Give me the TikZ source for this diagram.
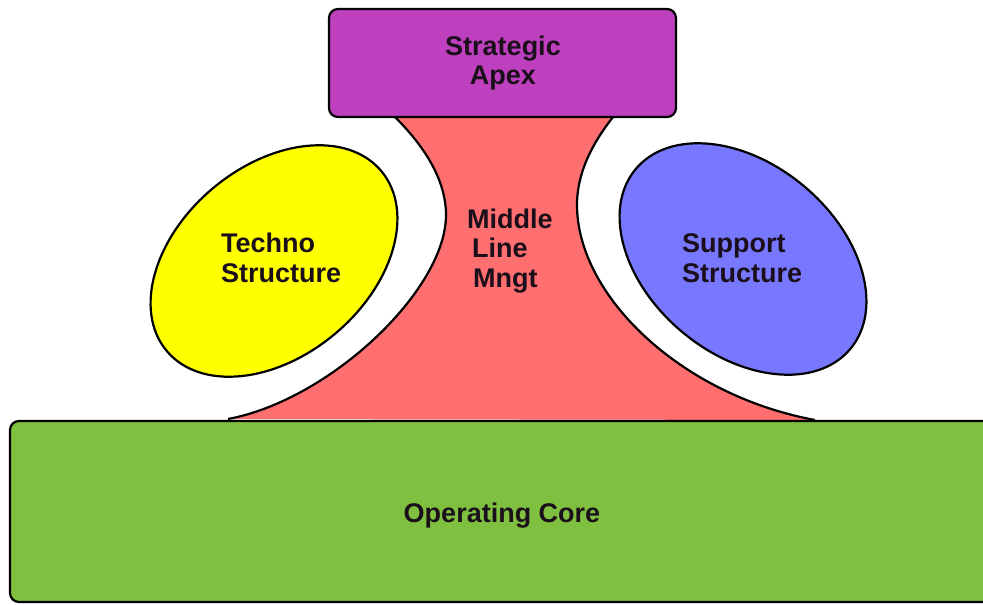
\documentclass[tikz,border=0pt]{standalone}
\usepackage{fontspec}
\setmainfont{Liberation Sans}
\usetikzlibrary{shapes.geometric}
\definecolor{apexc}{HTML}{BF40BF}
\definecolor{midc}{HTML}{FF6F6F}
\definecolor{techc}{HTML}{FFFF00}
\definecolor{suppc}{HTML}{7878FF}
\definecolor{corec}{HTML}{80C040}
\definecolor{txtc}{HTML}{1A0F1A}
\tikzset{
  outl/.style={draw=black, line width=2.2pt},
  boxst/.style={outl, rounded corners=9pt},
  ellst/.style={outl, ellipse, inner sep=0pt, minimum width=280pt, minimum height=190pt},
  lbl/.style={font=\fontsize{27}{29.5}\selectfont\bfseries, text=txtc, inner sep=0pt, align=left},
}
\begin{document}
\begin{tikzpicture}[x=1pt, y=-1pt]
\useasboundingbox (0,0) rectangle (983,605);
\clip (0,0) rectangle (983,605);
% middle line shape
\coordinate (lt) at (395,117);
\coordinate (lm) at (446,215);
\coordinate (lb) at (228,419);
\coordinate (rb) at (815,420);
\coordinate (rm) at (577,205);
\coordinate (rt) at (613,117);
\fill[midc] (lt) .. controls (418,140) and (446,175) .. (lm)
  .. controls (446,290) and (330,400) .. (lb)
  -- (rb) .. controls (680,395) and (577,295) .. (rm)
  .. controls (577,170) and (595,140) .. (rt) -- cycle;
\draw[outl] (lt) .. controls (418,140) and (446,175) .. (lm)
  .. controls (446,290) and (330,400) .. (lb);
\draw[outl] (rb) .. controls (680,395) and (577,295) .. (rm)
  .. controls (577,170) and (595,140) .. (rt);
% boxes
\draw[boxst, fill=apexc] (329,9) rectangle (676,117);
\coordinate (apexc) at (503,63);
\draw[boxst, fill=corec] (10,421) rectangle (1010,602);
\coordinate (corec) at (502,516);
% ellipses
\node[ellst, fill=techc, rotate=40] (techE) at (274,261) {};
\node[ellst, fill=suppc, rotate=-40] (suppE) at (743,259) {};
% labels
\node[lbl, align=center] (apexT) at (apexc) {Strategic\\Apex};
\node[lbl, anchor=west] (techT) at (221,258) {Techno\\Structure};
\node[lbl, anchor=west] (suppT) at (682,258) {Support\\Structure};
\node[lbl, anchor=west] (midT) at (467,251) {Middle\\\hspace{5pt}Line\\\hspace{6pt}Mngt};
\node[lbl] (coreT) at (corec) {Operating Core};
\end{tikzpicture}
\end{document}
